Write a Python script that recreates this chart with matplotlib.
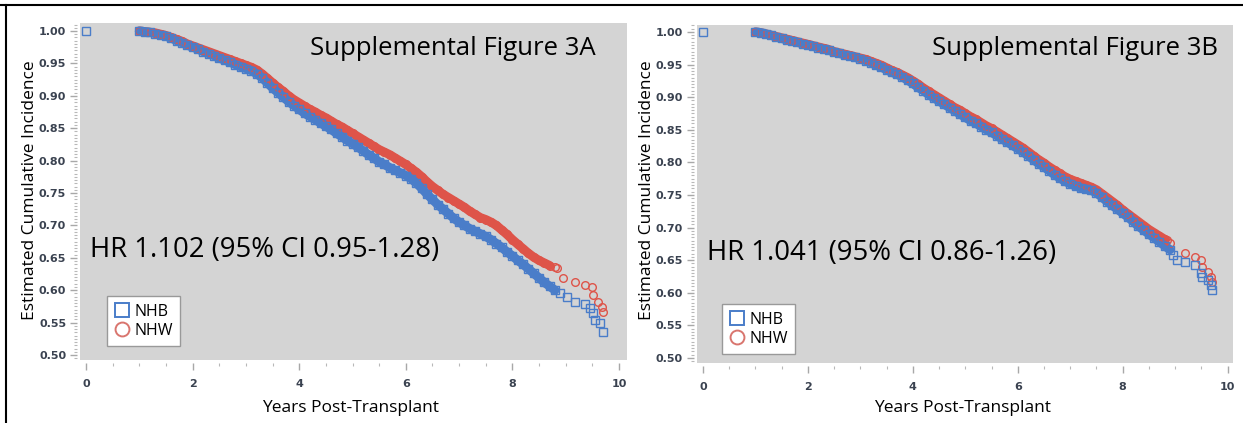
import matplotlib
matplotlib.use("Agg")
import matplotlib.pyplot as plt
from matplotlib.lines import Line2D
from matplotlib.ticker import MultipleLocator
import numpy as np

# --- values ---------------------------------------------------------------
# dense part of each curve, read every 0.1 year
grid_a_nhb = np.arange(10, 89) / 10      # 1.0 .. 8.8
grid_a_nhw = np.arange(10, 88) / 10      # 1.0 .. 8.7
grid_b_nhb = np.arange(10, 90) / 10      # 1.0 .. 8.9
grid_b_nhw = np.arange(10, 89) / 10      # 1.0 .. 8.8

a_nhb = [1.000, 0.999, 0.998, 0.996, 0.994, 0.992, 0.989, 0.985, 0.982, 0.978,
         0.975, 0.972, 0.968, 0.965, 0.962, 0.958, 0.955, 0.952, 0.948, 0.945,
         0.942, 0.939, 0.934, 0.928, 0.920, 0.912, 0.905, 0.898, 0.891, 0.885,
         0.879, 0.873, 0.868, 0.863, 0.858, 0.853, 0.848, 0.842, 0.837, 0.831,
         0.826, 0.821, 0.815, 0.809, 0.804, 0.798, 0.794, 0.789, 0.785, 0.781,
         0.777, 0.772, 0.765, 0.757, 0.748, 0.740, 0.732, 0.725, 0.718, 0.711,
         0.705, 0.700, 0.695, 0.691, 0.687, 0.683, 0.678, 0.672, 0.666, 0.659,
         0.653, 0.646, 0.640, 0.633, 0.626, 0.619, 0.612, 0.606, 0.600]
a_nhw = [1.000, 0.999, 0.998, 0.997, 0.995, 0.993, 0.990, 0.987, 0.984, 0.980,
         0.977, 0.974, 0.971, 0.968, 0.965, 0.962, 0.959, 0.956, 0.953, 0.950,
         0.947, 0.944, 0.940, 0.934, 0.927, 0.920, 0.913, 0.907, 0.900, 0.894,
         0.889, 0.884, 0.879, 0.875, 0.870, 0.866, 0.861, 0.856, 0.852, 0.847,
         0.842, 0.837, 0.832, 0.827, 0.822, 0.817, 0.813, 0.809, 0.804, 0.799,
         0.794, 0.788, 0.782, 0.775, 0.767, 0.760, 0.754, 0.748, 0.743, 0.738,
         0.733, 0.728, 0.722, 0.717, 0.712, 0.709, 0.705, 0.700, 0.693, 0.686,
         0.678, 0.671, 0.664, 0.657, 0.651, 0.646, 0.642, 0.638]
b_nhb = [1.000, 0.999, 0.997, 0.995, 0.992, 0.990, 0.988, 0.986, 0.984, 0.982,
         0.980, 0.978, 0.976, 0.974, 0.972, 0.969, 0.967, 0.965, 0.963, 0.961,
         0.959, 0.956, 0.953, 0.949, 0.946, 0.942, 0.938, 0.935, 0.931, 0.926,
         0.921, 0.915, 0.910, 0.904, 0.899, 0.894, 0.889, 0.884, 0.879, 0.874,
         0.869, 0.864, 0.860, 0.855, 0.850, 0.846, 0.841, 0.836, 0.831, 0.826,
         0.821, 0.816, 0.810, 0.804, 0.798, 0.793, 0.787, 0.781, 0.776, 0.771,
         0.767, 0.764, 0.761, 0.759, 0.757, 0.753, 0.747, 0.740, 0.734, 0.728,
         0.722, 0.716, 0.709, 0.702, 0.696, 0.690, 0.684, 0.678, 0.672, 0.666]
b_nhw = [1.000, 0.999, 0.997, 0.995, 0.993, 0.991, 0.989, 0.987, 0.985, 0.983,
         0.981, 0.979, 0.977, 0.975, 0.973, 0.970, 0.968, 0.966, 0.964, 0.962,
         0.960, 0.958, 0.955, 0.952, 0.949, 0.945, 0.941, 0.938, 0.934, 0.930,
         0.925, 0.920, 0.914, 0.909, 0.904, 0.899, 0.894, 0.889, 0.884, 0.880,
         0.875, 0.870, 0.866, 0.861, 0.856, 0.852, 0.847, 0.842, 0.837, 0.832,
         0.827, 0.822, 0.816, 0.810, 0.804, 0.799, 0.793, 0.788, 0.783, 0.778,
         0.774, 0.771, 0.768, 0.765, 0.762, 0.758, 0.752, 0.746, 0.740, 0.734,
         0.727, 0.721, 0.715, 0.709, 0.703, 0.697, 0.692, 0.687, 0.682]

# sparse tails (individual markers)
a_nhb_tail_x = [0.0, 8.9, 9.02, 9.17, 9.36, 9.45, 9.51, 9.55, 9.64, 9.70]
a_nhb_tail_y = [1.0, 0.596, 0.590, 0.582, 0.579, 0.572, 0.565, 0.554, 0.549, 0.535]
a_nhw_tail_x = [8.8, 8.83, 8.95, 9.17, 9.36, 9.49, 9.52, 9.61, 9.68, 9.70]
a_nhw_tail_y = [0.636, 0.634, 0.619, 0.613, 0.608, 0.605, 0.593, 0.582, 0.574, 0.566]
b_nhb_tail_x = [0.0, 8.95, 9.03, 9.18, 9.37, 9.50, 9.52, 9.62, 9.69, 9.71]
b_nhb_tail_y = [1.0, 0.658, 0.650, 0.647, 0.643, 0.630, 0.624, 0.620, 0.612, 0.604]
b_nhw_tail_x = [8.84, 8.9, 9.18, 9.37, 9.50, 9.52, 9.62, 9.69, 9.71]
b_nhw_tail_y = [0.681, 0.676, 0.661, 0.655, 0.650, 0.640, 0.632, 0.624, 0.617]

titles = ["Supplemental Figure 3A", "Supplemental Figure 3B"]
hr_texts = ["HR 1.102 (95% CI 0.95-1.28)", "HR 1.041 (95% CI 0.86-1.26)"]
groups = ["NHB", "NHW"]

BLUE = "#4a7dc9"
RED = "#de5449"
BG = "#d4d4d4"
FONT = "Open Sans"

fig = plt.figure(figsize=(12.43, 4.23), dpi=100)

panels = [
    dict(rect=[0.0644, 0.1489, 0.4400, 0.7967], xlim=(-0.113, 10.15), ylim=(0.4923, 1.0123),
         nhb=(grid_a_nhb, a_nhb, a_nhb_tail_x, a_nhb_tail_y),
         nhw=(grid_a_nhw, a_nhw, a_nhw_tail_x, a_nhw_tail_y),
         title_xy=(0.2494, 0.8865), hr_xy=(0.0724, 0.409), ylab_x=0.0241, xlab_x=0.2816,
         leg=(0.0861, 0.182)),
    dict(rect=[0.5607, 0.1418, 0.4312, 0.7991], xlim=(-0.114, 10.10), ylim=(0.4923, 1.0107),
         nhb=(grid_b_nhb, b_nhb, b_nhb_tail_x, b_nhb_tail_y),
         nhw=(grid_b_nhw, b_nhw, b_nhw_tail_x, b_nhw_tail_y),
         title_xy=(0.7498, 0.8865), hr_xy=(0.5688, 0.402), ylab_x=0.5205, xlab_x=0.7747,
         leg=(0.5809, 0.163)),
]

for i, p in enumerate(panels):
    ax = fig.add_axes(p["rect"])
    ax.set_facecolor(BG)
    for s in ax.spines.values():
        s.set_visible(False)
    ax.spines["bottom"].set_position(("outward", 2))
    ax.spines["left"].set_position(("outward", 2))

    # NHW first, NHB drawn over it
    for key, color, marker in [("nhw", RED, "o"), ("nhb", BLUE, "s")]:
        gx, gy, tx, ty = p[key]
        ax.plot(gx, gy, "-", color=color, lw=6.5, solid_capstyle="round", zorder=2)
        ax.plot(gx, gy, marker, ls="none", mfc="none", mec=color, ms=5.5, mew=1.0, zorder=3)
        ax.plot(tx, ty, marker, ls="none", mfc="none", mec=color, ms=5.5, mew=1.0, zorder=3)

    ax.set_xlim(*p["xlim"])
    ax.set_ylim(*p["ylim"])
    ax.set_xticks([0, 2, 4, 6, 8, 10])
    ax.xaxis.set_minor_locator(MultipleLocator(0.5))
    ax.set_yticks(np.arange(50, 101, 5) / 100)
    ax.yaxis.set_minor_locator(MultipleLocator(0.005))
    ax.yaxis.set_major_formatter(plt.FormatStrFormatter("%.2f"))
    ax.tick_params(which="major", direction="out", length=5, width=1, color="#a8a8a8",
                   labelsize=8, labelcolor="#3a4250", pad=3)
    ax.tick_params(axis="x", which="major", pad=7)
    ax.tick_params(which="minor", direction="out", length=2.5, width=0.8, color="#b8b8b8")
    for lab in ax.get_xticklabels() + ax.get_yticklabels():
        lab.set_fontweight("semibold")

    fig.text(*p["title_xy"], titles[i], fontsize=18.5, family=FONT, va="center", ha="left")
    fig.text(*p["hr_xy"], hr_texts[i], fontsize=19.8, family=FONT, va="center", ha="left")
    fig.text(p["ylab_x"], 0.551, "Estimated Cumulative Incidence", rotation=90,
             fontsize=12.5, family=FONT, va="center", ha="center")
    fig.text(p["xlab_x"], 0.0355, "Years Post-Transplant", fontsize=12.5, family=FONT,
             va="center", ha="center")

    handles = [Line2D([], [], marker="s", ls="none", mfc="none", mec=BLUE, ms=10, mew=1.4),
               Line2D([], [], marker="o", ls="none", mfc="none", mec="#d9756e", ms=10, mew=1.4)]
    leg = ax.legend(handles, groups, loc="lower left", bbox_to_anchor=p["leg"],
                    bbox_transform=fig.transFigure, fancybox=False, framealpha=1,
                    edgecolor="#999999", borderpad=0.45, handletextpad=0.25,
                    handlelength=1.0, labelspacing=0.2, borderaxespad=0,
                    prop={"family": FONT, "size": 11.5})
    leg.get_frame().set_linewidth(1.0)

# outer frame lines (top and left)
fig.add_artist(Line2D([0, 1], [1 - 5 / 423, 1 - 5 / 423], color="black", lw=1.5))
fig.add_artist(Line2D([6 / 1243, 6 / 1243], [0, 1 - 5 / 423], color="black", lw=1.5))

fig.savefig("out.png", dpi=100)
